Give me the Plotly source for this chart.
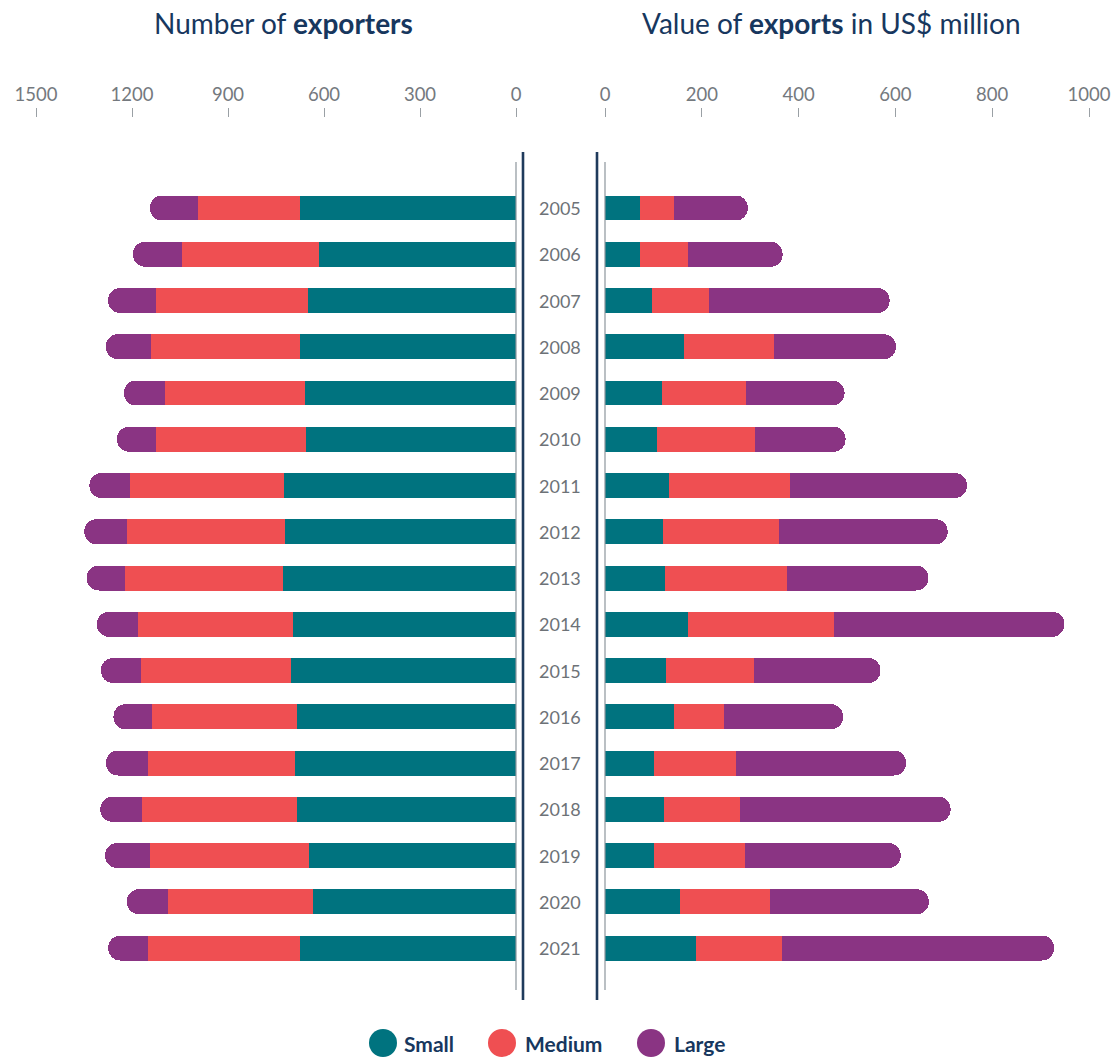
import plotly.graph_objects as go

# ---- data -------------------------------------------------------------
years = list(range(2005, 2022))
series_names = ["Small", "Medium", "Large"]
series_colors = ["#00737f", "#ef4f52", "#8a3483"]

# Number of exporters by firm size
exporters_small = [675, 616, 650, 675, 659, 656, 724, 723, 727, 696, 704, 685, 691, 683, 648, 635, 675]
exporters_medium = [320, 428, 475, 466, 438, 469, 481, 493, 494, 484, 467, 451, 459, 486, 496, 452, 475]
exporters_large = [149, 153, 150, 141, 128, 122, 128, 133, 121, 130, 126, 122, 131, 130, 140, 129, 124]

# Value of exports (US$ million) by firm size
value_small = [72, 72, 97, 163, 118, 107, 133, 120, 124, 171, 126, 142, 102, 121, 102, 155, 188]
value_medium = [70, 99, 118, 186, 173, 202, 249, 240, 252, 302, 181, 104, 168, 157, 187, 186, 177]
value_large = [153, 196, 373, 252, 204, 188, 366, 348, 292, 476, 262, 246, 352, 436, 322, 328, 563]

exporters_ticks = [1500, 1200, 900, 600, 300, 0]
value_ticks = [0, 200, 400, 600, 800, 1000]

# ---- layout helpers ---------------------------------------------------
W, H = 1111, 1057
FONT = "Lato"
NAVY = "#17375e"
TICK_GREY = "#74797e"


def fx(p):
    return p / W


def fy(p):
    return 1 - p / H


fig = go.Figure()

left_sets = [exporters_small, exporters_medium, exporters_large]
right_sets = [value_small, value_medium, value_large]

for name, color, vals in zip(series_names, series_colors, left_sets):
    fig.add_trace(go.Bar(
        y=years, x=vals, orientation="h", name=name,
        marker=dict(color=color, line=dict(width=0)),
        width=0.54, xaxis="x", yaxis="y", showlegend=False,
        hovertemplate="%{y}: %{x}<extra>" + name + "</extra>",
    ))

for name, color, vals in zip(series_names, series_colors, right_sets):
    fig.add_trace(go.Bar(
        y=years, x=vals, orientation="h", name=name,
        marker=dict(color=color, line=dict(width=0)),
        width=0.54, xaxis="x2", yaxis="y2", showlegend=False,
        hovertemplate="%{y}: US$ %{x} million<extra>" + name + "</extra>",
    ))

y_range = [2022.124, 2003.054]
y_domain = [fy(1000), fy(118)]

tick_common = dict(
    side="top", ticks="outside", ticklen=9, tickwidth=1, tickcolor="#9aa0a5",
    tickfont=dict(family=FONT, size=18.5, color=TICK_GREY),
    ticklabeloverflow="allow",
    showgrid=False, zeroline=False, showline=False, automargin=False,
    fixedrange=True,
)

fig.update_layout(
    width=W, height=H,
    template="none",
    paper_bgcolor="white", plot_bgcolor="white",
    margin=dict(l=0, r=0, t=0, b=0, pad=0),
    barmode="stack",
    barcornerradius="50%",
    showlegend=False,
    xaxis=dict(domain=[fx(36), fx(516)], range=[1500, 0], anchor="y",
               tickvals=exporters_ticks, **tick_common),
    xaxis2=dict(domain=[fx(605), fx(1089)], range=[0, 1000], anchor="y2",
                tickvals=value_ticks, **tick_common),
    yaxis=dict(domain=y_domain, range=y_range, visible=False, fixedrange=True),
    yaxis2=dict(domain=y_domain, range=y_range, visible=False, fixedrange=True),
)

# Panel titles
fig.add_annotation(text="Number of <b>exporters</b>", x=fx(283), y=fy(23),
                   xref="paper", yref="paper", showarrow=False,
                   xanchor="center", yanchor="middle",
                   font=dict(family=FONT, size=28, color=NAVY))
fig.add_annotation(text="Value of <b>exports</b> in US$ million", x=fx(831), y=fy(23),
                   xref="paper", yref="paper", showarrow=False,
                   xanchor="center", yanchor="middle",
                   font=dict(family=FONT, size=28, color=NAVY))

# Year labels in the central gutter
for yr in years:
    fig.add_annotation(text=str(yr), x=fx(560), y=yr, xref="paper", yref="y",
                       showarrow=False, xanchor="center", yanchor="middle",
                       font=dict(family=FONT, size=18, color="#6d7277"))

# Baselines: thin grey zero lines and thick navy dividers
line_specs = [
    (516, 162, 990, "#8c959c", 1.2),
    (523, 152, 1000, "#1f3b5c", 2.6),
    (597, 152, 1000, "#1f3b5c", 2.6),
    (605, 162, 990, "#8c959c", 1.2),
]
for x, y0, y1, col, w in line_specs:
    fig.add_shape(type="line", xref="paper", yref="paper",
                  x0=fx(x), x1=fx(x), y0=fy(y0), y1=fy(y1),
                  line=dict(color=col, width=w))

# Legend with round swatches
legend_pos = [(383, 402), (502, 523), (651, 672)]
r = 14
for (cx, tx), name, color in zip(legend_pos, series_names, series_colors):
    fig.add_shape(type="circle", xref="paper", yref="paper",
                  x0=fx(cx - r), x1=fx(cx + r), y0=fy(1043 + r), y1=fy(1043 - r),
                  fillcolor=color, line=dict(width=0))
    fig.add_annotation(text=f"<b>{name}</b>", x=fx(tx), y=fy(1043),
                       xref="paper", yref="paper", showarrow=False,
                       xanchor="left", yanchor="middle",
                       font=dict(family=FONT, size=21, color=NAVY))

fig.write_html("out.html")
